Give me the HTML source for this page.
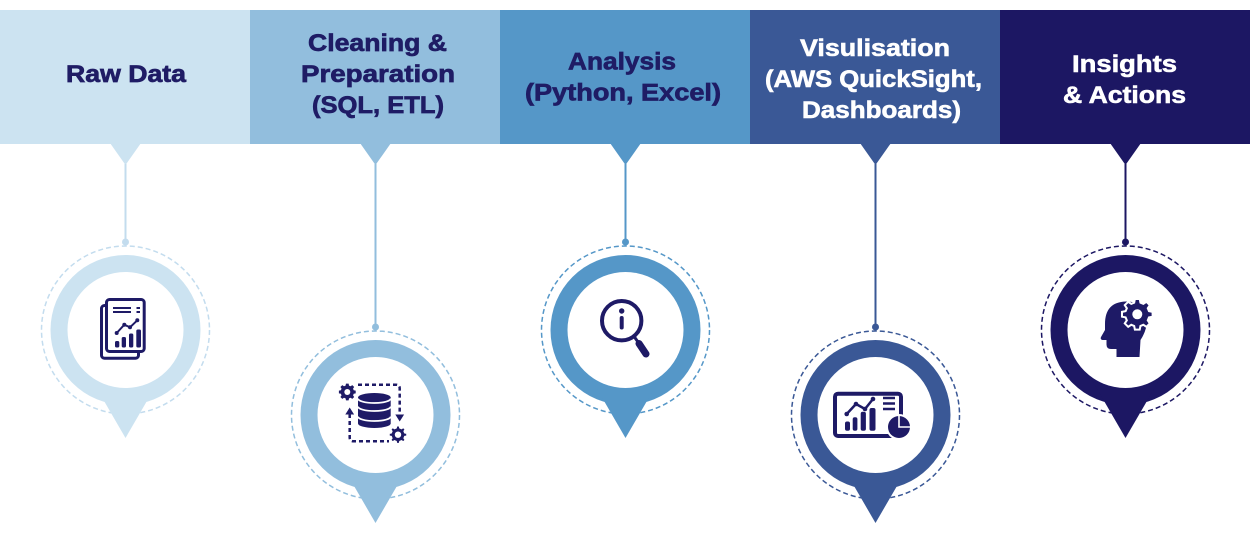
<!DOCTYPE html>
<html>
<head>
<meta charset="utf-8">
<style>
  html,body{margin:0;padding:0;background:#fff;width:1250px;height:536px;overflow:hidden;}
  svg{display:block;}
  .h{font-family:"Liberation Sans",Arial,sans-serif;font-weight:bold;font-size:24px;}
</style>
</head>
<body>
<svg width="1250" height="536" viewBox="0 0 1250 536" xmlns="http://www.w3.org/2000/svg">
  <defs>
    <path id="gear" d="M7.53,-2.02 L9.88,-1.56 L9.88,1.56 L7.53,2.02 L6.75,3.9 L8.09,5.88 L5.88,8.09 L3.9,6.75 L2.02,7.53 L1.56,9.88 L-1.56,9.88 L-2.02,7.53 L-3.9,6.75 L-5.88,8.09 L-8.09,5.88 L-6.75,3.9 L-7.53,2.02 L-9.88,1.56 L-9.88,-1.56 L-7.53,-2.02 L-6.75,-3.9 L-8.09,-5.88 L-5.88,-8.09 L-3.9,-6.75 L-2.02,-7.53 L-1.56,-9.88 L1.56,-9.88 L2.02,-7.53 L3.9,-6.75 L5.88,-8.09 L8.09,-5.88 L6.75,-3.9 Z"/>
  </defs>

  <!-- Header bands -->
  <rect x="0" y="10" width="250" height="134" fill="#cce3f1"/>
  <rect x="250" y="10" width="250" height="134" fill="#92bedd"/>
  <rect x="500" y="10" width="250" height="134" fill="#5597c8"/>
  <rect x="750" y="10" width="250" height="134" fill="#3a5896"/>
  <rect x="1000" y="10" width="250" height="134" fill="#1c1763"/>

  <!-- Header text -->
  <g class="h" fill="#1f1c65" stroke="#1f1c65" stroke-width="0.7">
    <text x="66" y="82" textLength="120" lengthAdjust="spacingAndGlyphs">Raw Data</text>
    <text x="308" y="51" textLength="139" lengthAdjust="spacingAndGlyphs">Cleaning &amp;</text>
    <text x="301" y="82" textLength="154" lengthAdjust="spacingAndGlyphs">Preparation</text>
    <text x="312" y="113" textLength="132" lengthAdjust="spacingAndGlyphs">(SQL, ETL)</text>
    <text x="568" y="69.5" textLength="108" lengthAdjust="spacingAndGlyphs">Analysis</text>
    <text x="525" y="100.5" textLength="196" lengthAdjust="spacingAndGlyphs">(Python, Excel)</text>
  </g>
  <g class="h" fill="#ffffff" stroke="#ffffff" stroke-width="0.6">
    <text x="800" y="56" textLength="150" lengthAdjust="spacingAndGlyphs">Visulisation</text>
    <text x="765" y="87" textLength="217" lengthAdjust="spacingAndGlyphs">(AWS QuickSight,</text>
    <text x="802" y="118" textLength="159" lengthAdjust="spacingAndGlyphs">Dashboards)</text>
    <text x="1072" y="72" textLength="105" lengthAdjust="spacingAndGlyphs">Insights</text>
    <text x="1063" y="103" textLength="123" lengthAdjust="spacingAndGlyphs">&amp; Actions</text>
  </g>

  <!-- PIN 1 -->
  <g>
    <polygon points="110,143 141,143 125.5,165" fill="#cce3f1"/>
    <line x1="125.5" y1="164" x2="125.5" y2="242" stroke="#c3dcee" stroke-width="2"/>
    <circle cx="125.5" cy="242" r="3.5" fill="#c3dcee"/>
    <circle cx="125.5" cy="330" r="84" fill="none" stroke="#c3dcee" stroke-width="1.5" stroke-dasharray="5 3"/>
    <circle cx="125.5" cy="330" r="75" fill="#cce3f1"/>
    <polygon points="125.5,438 85.5,369 165.5,369" fill="#cce3f1"/>
    <circle cx="125.5" cy="330" r="58" fill="#ffffff"/>
    <g stroke="#1e1a66" fill="#ffffff">
      <rect x="101.5" y="305.5" width="37" height="52.7" rx="3" stroke-width="3"/>
      <rect x="106.5" y="299.5" width="37.7" height="52" rx="3" stroke-width="3"/>
    </g>
    <g stroke="#1e1a66" stroke-width="2" fill="none">
      <line x1="113" y1="308" x2="131" y2="308"/>
      <line x1="113" y1="312" x2="131" y2="312"/>
      <line x1="136.5" y1="308" x2="140" y2="308"/>
      <line x1="136.5" y1="312" x2="140" y2="312"/>
      <polyline points="116.7,333 124.3,324.7 130,327.3 137.3,320.3"/>
    </g>
    <g fill="#1e1a66">
      <circle cx="116.7" cy="333" r="2"/>
      <circle cx="124.3" cy="324.7" r="2"/>
      <circle cx="130" cy="327.3" r="2"/>
      <circle cx="137.3" cy="320.3" r="2"/>
      <rect x="115" y="341" width="4.3" height="6.5" rx="1.6"/>
      <rect x="121.7" y="337" width="4.3" height="10.5" rx="1.6"/>
      <rect x="129" y="333.5" width="4.3" height="14" rx="1.6"/>
      <rect x="136.3" y="329.5" width="4.7" height="18" rx="1.6"/>
    </g>
  </g>

  <!-- PIN 2 -->
  <g>
    <polygon points="360,143 391,143 375.5,165" fill="#92bedd"/>
    <line x1="375.5" y1="164" x2="375.5" y2="327" stroke="#92bedd" stroke-width="2"/>
    <circle cx="375.5" cy="327" r="3.5" fill="#92bedd"/>
    <circle cx="375.5" cy="415" r="84" fill="none" stroke="#92bedd" stroke-width="1.5" stroke-dasharray="5 3"/>
    <circle cx="375.5" cy="415" r="75" fill="#92bedd"/>
    <polygon points="375.5,523 335.5,454 415.5,454" fill="#92bedd"/>
    <circle cx="375.5" cy="415" r="58" fill="#ffffff"/>
    <g stroke="#1e1a66" stroke-width="2.5" fill="none" stroke-dasharray="4 3">
      <path d="M358,384.7 L396,384.7 Q399.7,384.7 399.7,388.5 L399.7,415"/>
      <path d="M349.7,414 L349.7,437.5 Q349.7,441.3 353.5,441.3 L389,441.3"/>
    </g>
    <g fill="#1e1a66">
      <polygon points="349.7,407.5 345.3,414.5 354.1,414.5"/>
      <polygon points="399.7,421.5 395.3,414.5 404.1,414.5"/>
      <rect x="358" y="397.5" width="32.7" height="26"/>
      <ellipse cx="374.35" cy="397.5" rx="16.35" ry="4.5"/>
      <ellipse cx="374.35" cy="423.5" rx="16.35" ry="4.5"/>
    </g>
    <g stroke="#ffffff" stroke-width="1.8" fill="none">
      <path d="M358,398.5 A16.35,4.5 0 0 0 390.7,398.5"/>
      <path d="M358,406.5 A16.35,4.5 0 0 0 390.7,406.5"/>
      <path d="M358,416.5 A16.35,4.5 0 0 0 390.7,416.5"/>
    </g>
    <use href="#gear" transform="translate(347.3,392) scale(0.85)" fill="#1e1a66"/>
    <circle cx="347.3" cy="392" r="3" fill="#ffffff"/>
    <use href="#gear" transform="translate(398,434.7) scale(0.9)" fill="#1e1a66" stroke="#ffffff" stroke-width="1.5"/>
    <circle cx="398" cy="434.7" r="3.2" fill="#ffffff"/>
  </g>

  <!-- PIN 3 -->
  <g>
    <polygon points="610,143 641,143 625.5,165" fill="#5597c8"/>
    <line x1="625.5" y1="164" x2="625.5" y2="242" stroke="#5597c8" stroke-width="2"/>
    <circle cx="625.5" cy="242" r="3.5" fill="#5597c8"/>
    <circle cx="625.5" cy="330" r="84" fill="none" stroke="#5597c8" stroke-width="1.5" stroke-dasharray="5 3"/>
    <circle cx="625.5" cy="330" r="75" fill="#5597c8"/>
    <polygon points="625.5,438 585.5,369 665.5,369" fill="#5597c8"/>
    <circle cx="625.5" cy="330" r="58" fill="#ffffff"/>
    <circle cx="621.7" cy="320.7" r="19.7" fill="#ffffff" stroke="#1e1a66" stroke-width="4"/>
    <circle cx="621.7" cy="311" r="2.7" fill="#1e1a66"/>
    <rect x="619.7" y="316" width="4" height="13.5" rx="2" fill="#1e1a66"/>
    <line x1="633" y1="335" x2="638" y2="342" stroke="#1e1a66" stroke-width="3"/>
    <line x1="639" y1="343.5" x2="646" y2="354" stroke="#1e1a66" stroke-width="7" stroke-linecap="round"/>
  </g>

  <!-- PIN 4 -->
  <g>
    <polygon points="860,143 891,143 875.5,165" fill="#3a5896"/>
    <line x1="875.5" y1="164" x2="875.5" y2="327" stroke="#3a5896" stroke-width="2"/>
    <circle cx="875.5" cy="327" r="3.5" fill="#3a5896"/>
    <circle cx="875.5" cy="415" r="84" fill="none" stroke="#3a5896" stroke-width="1.5" stroke-dasharray="5 3"/>
    <circle cx="875.5" cy="415" r="75" fill="#3a5896"/>
    <polygon points="875.5,523 835.5,454 915.5,454" fill="#3a5896"/>
    <circle cx="875.5" cy="415" r="58" fill="#ffffff"/>
    <rect x="835" y="393.7" width="66" height="42.3" rx="3" fill="#ffffff" stroke="#1e1a66" stroke-width="4"/>
    <g stroke="#1e1a66" stroke-width="2.5" fill="none">
      <polyline points="846.7,414 856,404 865,409 873,399"/>
      <line x1="883" y1="398" x2="895" y2="398"/>
      <line x1="883" y1="403.5" x2="895" y2="403.5"/>
      <line x1="883" y1="409" x2="895" y2="409"/>
    </g>
    <g fill="#1e1a66">
      <circle cx="846.7" cy="414" r="2.3"/>
      <circle cx="856" cy="404" r="2.3"/>
      <circle cx="865" cy="409" r="2.3"/>
      <circle cx="873" cy="399" r="2.3"/>
      <rect x="845" y="421.5" width="5" height="9.2" rx="2"/>
      <rect x="852.7" y="417.3" width="4.7" height="13.4" rx="2"/>
      <rect x="860.7" y="411.7" width="5.2" height="19" rx="2"/>
      <rect x="869.5" y="408" width="6" height="22.7" rx="2"/>
    </g>
    <circle cx="899" cy="427" r="13" fill="#ffffff"/>
    <circle cx="899" cy="427" r="11" fill="#1e1a66"/>
    <path d="M899,415 L899,427 L911,427" fill="none" stroke="#ffffff" stroke-width="1.6"/>
  </g>

  <!-- PIN 5 -->
  <g>
    <polygon points="1110,143 1141,143 1125.5,165" fill="#1c1763"/>
    <line x1="1125.5" y1="164" x2="1125.5" y2="242" stroke="#1c1763" stroke-width="2"/>
    <circle cx="1125.5" cy="242" r="3.5" fill="#1c1763"/>
    <circle cx="1125.5" cy="330" r="84" fill="none" stroke="#1c1763" stroke-width="1.5" stroke-dasharray="5 3"/>
    <circle cx="1125.5" cy="330" r="75" fill="#1c1763"/>
    <polygon points="1125.5,438 1085.5,369 1165.5,369" fill="#1c1763"/>
    <circle cx="1125.5" cy="330" r="58" fill="#ffffff"/>
    <path d="M1116.5,357 L1116.5,349 L1111,349 Q1106.5,349 1106.5,344.5 L1106.5,340 L1102.5,340 Q1100,339.5 1101,337 L1105,330 L1105,324 Q1105,302 1126,301.5 Q1146,301.5 1147,320 Q1147,330 1140.5,340 L1139.5,357 Z" fill="#1e1a66"/>
    <use href="#gear" transform="translate(1137.3,314.3) scale(1.55)" fill="#1e1a66" stroke="#ffffff" stroke-width="1.3"/>
    <circle cx="1137.3" cy="314.3" r="5" fill="#ffffff"/>
  </g>
</svg>
</body>
</html>
